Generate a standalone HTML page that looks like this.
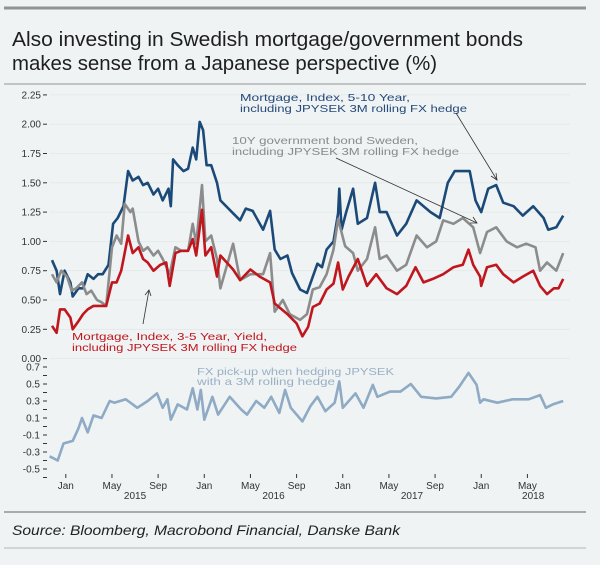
<!DOCTYPE html>
<html><head><meta charset="utf-8"><style>
body{margin:0;background:#eff3f3;}
svg{display:block;font-family:"Liberation Sans",sans-serif;}
</style></head><body>
<svg id="c" width="600" height="565" viewBox="0 0 600 565" xmlns="http://www.w3.org/2000/svg">
<rect width="600" height="565" fill="#eff3f3"/>
<line x1="4" y1="8" x2="586" y2="8" stroke="#8e9393" stroke-width="3"/>
<text x="12" y="46" font-size="20" fill="#1e1e1e" textLength="511" lengthAdjust="spacingAndGlyphs">Also investing in Swedish mortgage/government bonds</text>
<text x="12" y="70" font-size="20" fill="#1e1e1e" textLength="425" lengthAdjust="spacingAndGlyphs">makes sense from a Japanese perspective (%)</text>
<line x1="4" y1="84" x2="586" y2="84" stroke="#b0b5b5" stroke-width="1.5"/>
<g id="top-axis"></g>
<g id="bot-axis"></g>
<g id="x-axis"></g>
<g id="series"></g>
<g font-size="10.5" lengthAdjust="spacingAndGlyphs">
<text x="240" y="101" fill="#24497a" textLength="170" lengthAdjust="spacingAndGlyphs">Mortgage, Index, 5-10 Year,</text>
<text x="240" y="112" fill="#24497a" textLength="227" lengthAdjust="spacingAndGlyphs">including JPYSEK 3M rolling FX hedge</text>
<text x="232" y="144" fill="#8a8a8a" textLength="186" lengthAdjust="spacingAndGlyphs">10Y government bond Sweden,</text>
<text x="232" y="155" fill="#8a8a8a" textLength="227" lengthAdjust="spacingAndGlyphs">including JPYSEK 3M rolling FX hedge</text>
<text x="72" y="340" fill="#c0161e" textLength="195" lengthAdjust="spacingAndGlyphs">Mortgage, Index, 3-5 Year, Yield,</text>
<text x="72" y="351" fill="#c0161e" textLength="225" lengthAdjust="spacingAndGlyphs">including JPYSEK 3M rolling FX hedge</text>
<text x="197" y="375" fill="#9ab0c6" textLength="197" lengthAdjust="spacingAndGlyphs">FX pick-up when hedging JPYSEK</text>
<text x="197" y="385" fill="#9ab0c6" textLength="138" lengthAdjust="spacingAndGlyphs">with a 3M rolling hedge</text>
</g>
<g stroke="#333" stroke-width="0.8" fill="none">
<line x1="456" y1="113" x2="497" y2="180"/>
<path d="M491,176 L497,180 L496,173"/>
<line x1="336" y1="158" x2="477" y2="223"/>
<path d="M470,223 L477,223 L473,217"/>
<line x1="143" y1="324" x2="149" y2="290"/>
<path d="M145,295 L149,290 L151,296"/>
</g>
<line x1="4" y1="512" x2="586" y2="512" stroke="#8e9393" stroke-width="1.5"/>
<text x="12" y="535" font-size="14" font-style="italic" fill="#222" textLength="388" lengthAdjust="spacingAndGlyphs">Source: Bloomberg, Macrobond Financial, Danske Bank</text>
<line x1="4" y1="548" x2="586" y2="548" stroke="#b0b5b5" stroke-width="1"/>
</svg>
<script>
// months since Jan 2015
const blueMonths=[-1.2,-0.8,-0.5,-0.1,0.4,0.6,1.1,1.5,1.9,2.4,2.8,3.2,3.7,4.1,4.5,5.0,5.4,5.8,6.3,6.7,7.1,7.6,8.0,8.4,8.9,9.1,9.3,9.7,10.2,10.6,11.0,11.3,11.6,11.9,12.2,12.6,13.1,13.4,14.5,15.1,15.6,16.2,17.1,17.7,18.1,18.6,19.2,19.6,20.3,20.9,21.3,21.8,22.2,22.6,23.2,23.6,23.7,23.9,24.3,24.9,25.3,26.1,26.8,27.2,27.8,28.7,29.5,30.4,31.0,31.6,32.4,33.1,33.7,34.4,35.0,35.5,36.0,36.6,37.3,37.9,38.8,39.6,40.5,41.4,41.8,42.5,43.1];
const blueValues=[0.84,0.75,0.55,0.75,0.65,0.53,0.6,0.6,0.72,0.68,0.72,0.72,0.8,1.15,1.2,1.3,1.6,1.52,1.55,1.48,1.5,1.4,1.45,1.35,1.45,1.3,1.7,1.65,1.6,1.62,1.8,1.7,2.02,1.95,1.65,1.65,1.5,1.35,1.24,1.18,1.28,1.26,1.1,1.26,0.93,0.85,0.88,0.73,0.59,0.56,0.67,0.81,0.78,0.93,1.0,1.24,1.45,1.1,1.25,1.45,1.15,1.2,1.5,1.25,1.25,1.05,1.15,1.35,1.3,1.25,1.2,1.5,1.6,1.6,1.6,1.35,1.25,1.45,1.48,1.33,1.3,1.22,1.3,1.2,1.1,1.12,1.22];
const grayMonths=[-1.2,-0.8,-0.4,0.1,0.5,0.9,1.4,1.8,2.2,2.7,3.1,3.5,4.0,4.4,4.8,5.1,5.6,5.8,6.3,6.7,7.1,7.6,8.0,8.4,9.0,9.5,10.0,10.6,11.0,11.3,11.8,12.1,12.6,13.1,13.4,14.5,15.1,16.0,17.1,17.7,18.1,18.8,19.4,20.3,20.9,21.4,22.0,22.6,23.2,23.6,24.2,24.9,25.3,26.1,26.8,27.2,27.8,28.7,29.5,30.4,31.3,32.1,32.7,33.6,34.4,35.3,35.9,36.5,37.3,38.2,39.1,39.9,40.7,41.1,41.7,42.5,43.1];
const grayValues=[0.72,0.65,0.75,0.7,0.58,0.6,0.65,0.55,0.58,0.5,0.48,0.45,0.95,1.05,0.98,1.32,1.25,1.28,1.0,0.92,0.95,0.88,0.92,0.85,0.72,0.95,0.92,0.92,1.15,0.98,1.48,1.0,1.05,0.85,0.6,0.98,0.67,0.72,0.72,0.9,0.4,0.5,0.38,0.33,0.38,0.59,0.61,0.72,0.93,1.19,0.96,0.9,0.75,0.85,1.12,0.85,0.88,0.75,0.8,1.05,0.95,1.0,1.18,1.15,1.2,1.12,0.9,1.08,1.12,1.0,0.95,0.98,0.95,0.75,0.82,0.75,0.9];
const redMonths=[-1.2,-0.8,-0.5,-0.1,0.4,0.6,1.1,1.5,1.9,2.4,2.8,3.5,4.0,4.4,4.8,5.4,5.8,6.3,6.7,7.1,7.6,8.2,8.7,9.0,9.5,10.0,10.6,11.0,11.3,11.8,12.1,12.6,13.1,13.4,14.5,15.1,16.0,16.8,17.7,18.1,19.2,20.0,20.5,21.0,21.4,22.0,22.6,23.2,23.6,24.0,24.5,25.3,26.1,26.9,27.8,28.7,29.5,30.3,31.0,31.8,32.7,33.6,34.4,34.9,35.3,35.9,36.0,36.5,37.3,37.9,38.8,39.6,40.5,41.1,41.7,42.3,42.7,43.1];
const redValues=[0.28,0.22,0.42,0.42,0.35,0.25,0.32,0.38,0.42,0.45,0.45,0.45,0.65,0.65,0.75,1.05,0.9,0.95,0.85,0.82,0.75,0.8,0.82,0.62,0.9,0.92,0.92,1.02,0.88,1.27,0.88,0.95,0.7,0.88,0.76,0.67,0.76,0.7,0.65,0.47,0.38,0.3,0.19,0.27,0.44,0.47,0.59,0.64,0.82,0.59,0.7,0.85,0.62,0.72,0.6,0.55,0.62,0.78,0.65,0.68,0.72,0.78,0.8,0.93,0.8,0.7,0.62,0.78,0.8,0.72,0.65,0.7,0.75,0.62,0.55,0.6,0.6,0.68];
const fxMonths=[-1.4,-0.7,-0.2,0.6,1.1,1.4,1.9,2.4,3.1,3.8,4.2,5.2,6.2,7.1,7.9,8.4,8.8,9.1,9.7,10.5,11.0,11.4,11.7,12.0,12.7,13.2,14.2,15.2,15.7,16.5,17.2,17.8,18.5,19.0,19.5,20.5,21.2,21.8,22.5,23.3,23.7,24.0,25.1,25.8,26.6,27.0,28.1,29.0,29.9,30.8,32.1,33.4,34.1,34.9,35.6,35.9,36.2,37.4,38.7,40.1,41.1,41.6,42.2,43.1];
const fxValues=[-0.35,-0.4,-0.2,-0.17,-0.02,0.1,-0.07,0.13,0.1,0.3,0.28,0.32,0.22,0.3,0.39,0.22,0.32,0.08,0.26,0.2,0.45,0.2,0.43,0.08,0.35,0.14,0.35,0.2,0.14,0.3,0.22,0.35,0.16,0.43,0.22,0.06,0.24,0.35,0.18,0.28,0.53,0.22,0.39,0.22,0.49,0.35,0.41,0.41,0.5,0.35,0.33,0.35,0.47,0.63,0.49,0.28,0.32,0.28,0.32,0.32,0.37,0.22,0.26,0.3];
const topTicks=["2.25","2.00","1.75","1.50","1.25","1.00","0.75","0.50","0.25","0.00"];
const botTicks=["0.7","0.5","0.3","0.1","-0.1","-0.3","-0.5"];
const monthTickPos=[0,4,8,12,16,20,24,28,32,36,40];
const monthTickLabels=["Jan","May","Sep","Jan","May","Sep","Jan","May","Sep","Jan","May"];
const yearLabels=["2015","2016","2017","2018"];
const yearPos=[6,18,30,40.5];

const NS="http://www.w3.org/2000/svg";
const X=m=>65.8+m*11.54;
const YT=v=>358.6-v*117.2;
const YB=v=>401-(v-0.3)*85;
function mk(tag,attrs,parent,txt){const e=document.createElementNS(NS,tag);for(const k in attrs)e.setAttribute(k,attrs[k]);if(txt!==undefined)e.textContent=txt;parent.appendChild(e);return e;}
const ta=document.getElementById('top-axis');
topTicks.forEach(t=>{const y=YT(parseFloat(t));
 const l=mk('text',{x:41,y:y+3.5,'font-size':10,'text-anchor':'end',fill:'#333'},ta,t);
 
 
 mk('line',{x1:43,x2:47,y1:y,y2:y,stroke:'#333','stroke-width':1},ta);
 mk('line',{x1:50,x2:570,y1:y,y2:y,stroke:'#e2e8e8','stroke-width':0.8},ta);
});
const ba=document.getElementById('bot-axis');
botTicks.forEach(t=>{const y=YB(parseFloat(t));
 const l=mk('text',{x:40,y:y+3.5,'font-size':10,'text-anchor':'end',fill:'#333'},ba,t);
 
 
 mk('line',{x1:43,x2:47,y1:y,y2:y,stroke:'#333','stroke-width':1},ba);
 mk('line',{x1:43,x2:47,y1:y+8.5,y2:y+8.5,stroke:'#333','stroke-width':1},ba);
});
const xa=document.getElementById('x-axis');
monthTickPos.forEach((m,i)=>{const x=X(m);
 mk('line',{x1:x,x2:x,y1:474,y2:478,stroke:'#333','stroke-width':1},xa);
 const l=mk('text',{x:x,y:489,'font-size':10,'text-anchor':'middle',fill:'#333'},xa,monthTickLabels[i]);
 
 
});
yearLabels.forEach((t,i)=>{
 const l=mk('text',{x:X(yearPos[i]),y:499,'font-size':10,'text-anchor':'middle',fill:'#333'},xa,t);
 
 
});
const sg=document.getElementById('series');
function line(ms,vs,yf,color,name){
 const d=ms.map((m,i)=>(i?'L':'M')+X(m).toFixed(1)+','+yf(vs[i]).toFixed(1)).join(' ');
 const p=mk('path',{d:d,fill:'none',stroke:color,'stroke-width':2.6,'stroke-linejoin':'round'},sg);
 
 
}
line(blueMonths,blueValues,YT,'#1c4a78','mortgage-5-10y-line');
line(grayMonths,grayValues,YT,'#8c8c8c','gov-bond-10y-line');
line(redMonths,redValues,YT,'#c0161e','mortgage-3-5y-line');
line(fxMonths,fxValues,YB,'#8eaac4','fx-pickup-line');
</script>
</body></html>
